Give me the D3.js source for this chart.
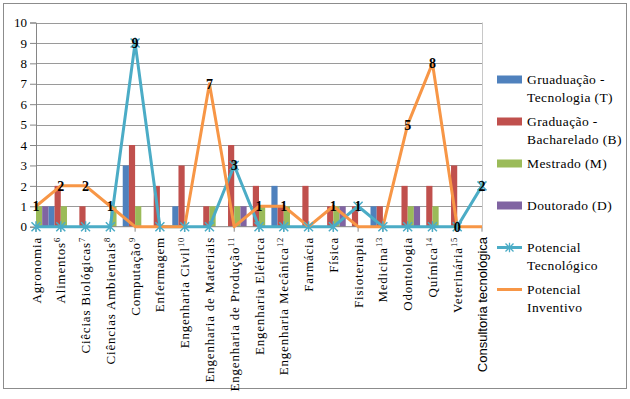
<!DOCTYPE html>
<html>
<head>
<meta charset="utf-8">
<script src="https://cdn.jsdelivr.net/npm/d3@7"></script>
<style>
  body { margin: 0; background: #fff; }
  text { font-family: "Liberation Serif", "Times New Roman", serif; }
</style>
</head>
<body>
<div id="chart"></div>
<script>
var width = 630,
  height = 399,
  plotLeft = 36, plotRight = 482, plotTop = 22.5, plotBottom = 226.7;

// categories and their footnote numbers
var categories = ['Agronomia', 'Alimentos', 'Ciêcias Biológicas', 'Ciências Ambientais', 'Computação',
  'Enfermagem', 'Engenharia Civil', 'Engenharia de Materiais', 'Engenharia de Produção',
  'Engenharia Elétrica', 'Engenharia Mecânica', 'Farmácia', 'Física', 'Fisioterapia', 'Medicina',
  'Odontologia', 'Química', 'Veterinária', 'Consultoria tecnológica'];
var notes = ['', '6', '7', '8', '9', '', '10', '', '11', '', '12', '', '', '', '13', '', '14', '15', ''];

// bar series
var gradTecnologia = [0, 1, 0, 0, 3, 0, 1, 0, 0, 0, 2, 0, 0, 0, 1, 0, 0, 0, 0];
var gradBacharelado = [0, 2, 1, 0, 4, 2, 3, 1, 4, 2, 1, 2, 1, 1, 1, 2, 2, 3, 0];
var mestrado = [1, 1, 0, 1, 1, 0, 0, 1, 1, 1, 1, 0, 1, 0, 0, 1, 1, 0, 0];
var doutorado = [1, 0, 0, 0, 0, 0, 0, 0, 1, 0, 0, 0, 1, 0, 0, 1, 0, 0, 0];

// line series
var potencialTecnologico = [0, 0, 0, 0, 9, 0, 0, 0, 3, 0, 0, 0, 0, 1, 0, 0, 0, 0, 2];
var potencialInventivo = [1, 2, 2, 1, 0, 0, 0, 7, 0, 1, 1, 0, 1, 0, 0, 5, 8, 0, 0];
// which points carry a data label
var tecLabeled = [0, 0, 0, 0, 1, 0, 0, 0, 1, 0, 0, 0, 0, 1, 0, 0, 0, 0, 1];
var invLabeled = [1, 1, 1, 1, 0, 0, 0, 1, 0, 1, 1, 0, 1, 0, 0, 1, 1, 1, 0];

var yTicks = [0, 1, 2, 3, 4, 5, 6, 7, 8, 9, 10];

var barSeries = [
  { name: ['Gruaduação -', 'Tecnologia (T)'], values: gradTecnologia, color: '#4F81BD' },
  { name: ['Graduação -', 'Bacharelado (B)'], values: gradBacharelado, color: '#C0504D' },
  { name: ['Mestrado (M)'], values: mestrado, color: '#9BBB59' },
  { name: ['Doutorado (D)'], values: doutorado, color: '#8064A2' }
];
var lineSeries = [
  { name: ['Potencial', 'Tecnológico'], values: potencialTecnologico, labeled: tecLabeled, color: '#4BACC6', star: true },
  { name: ['Potencial', 'Inventivo'], values: potencialInventivo, labeled: invLabeled, color: '#F79646', star: false }
];

var svg = d3.select('#chart').append('svg')
  .attr('width', width)
  .attr('height', height);

// chart border
svg.append('rect')
  .attr('x', 3.5).attr('y', 3.5)
  .attr('width', 623).attr('height', 385)
  .attr('fill', 'none')
  .attr('stroke', '#8c8c8c');

var xScale = d3.scalePoint()
  .domain(d3.range(categories.length))
  .range([plotLeft, plotRight]);
var step = xScale.step();

var xGroup = d3.scaleBand()
  .domain(d3.range(barSeries.length))
  .range([-step / 2, step / 2])
  .padding(0);

var yScale = d3.scaleLinear()
  .domain([0, 10])
  .range([plotBottom, plotTop]);

// gridlines
svg.append('g')
  .selectAll('line')
  .data(yTicks.filter(function (d) { return d > 0; }))
  .enter().append('line')
  .attr('x1', plotLeft).attr('x2', plotRight)
  .attr('y1', function (d) { return Math.round(yScale(d)) + 0.5; })
  .attr('y2', function (d) { return Math.round(yScale(d)) + 0.5; })
  .attr('stroke', '#9a9a9a');

// plot right edge
svg.append('line')
  .attr('x1', plotRight + 0.5).attr('x2', plotRight + 0.5)
  .attr('y1', yScale(10)).attr('y2', plotBottom)
  .attr('stroke', '#c8c8c8');

// y axis
var yAxis = d3.axisLeft(yScale)
  .tickValues(yTicks)
  .tickSize(6)
  .tickPadding(3);
var gy = svg.append('g')
  .attr('transform', 'translate(' + plotLeft + ',0)')
  .call(yAxis);
gy.selectAll('path, line').attr('stroke', '#868686');
gy.selectAll('text')
  .style('font-family', '"Liberation Serif", serif')
  .style('font-size', '13px')
  .attr('fill', '#000');

// clip for bars
svg.append('clipPath').attr('id', 'plotClip')
  .append('rect')
  .attr('x', plotLeft).attr('y', 0)
  .attr('width', plotRight - plotLeft).attr('height', plotBottom + 1);

var barsG = svg.append('g').attr('clip-path', 'url(#plotClip)');
barSeries.forEach(function (s, si) {
  barsG.selectAll('.bar' + si)
    .data(s.values)
    .enter().append('rect')
    .attr('class', 'bar' + si)
    .attr('x', function (d, i) { return xScale(i) + xGroup(si); })
    .attr('width', xGroup.bandwidth())
    .attr('y', function (d) { return yScale(d); })
    .attr('height', function (d) { return plotBottom - yScale(d); })
    .attr('fill', s.color);
});

// x axis line + ticks
svg.append('line')
  .attr('x1', plotLeft).attr('x2', plotRight)
  .attr('y1', plotBottom).attr('y2', plotBottom)
  .attr('stroke', '#868686');
svg.append('g').selectAll('line')
  .data(categories)
  .enter().append('line')
  .attr('x1', function (d, i) { return xScale(i); })
  .attr('x2', function (d, i) { return xScale(i); })
  .attr('y1', plotBottom).attr('y2', plotBottom + 5)
  .attr('stroke', '#868686');

// x labels
var lastIdx = categories.length - 1;
var xl = svg.append('g').selectAll('text')
  .data(categories)
  .enter().append('text')
  .attr('transform', function (d, i) {
    return 'translate(' + (xScale(i) + 4.5) + ',237) rotate(-90)';
  })
  .attr('text-anchor', 'end')
  .style('font-size', '13px')
  .style('letter-spacing', function (d, i) { return i === lastIdx ? '0px' : '0.8px'; })
  .style('font-family', function (d, i) {
    return i === lastIdx ? '"Liberation Sans", Arial, sans-serif' : '"Liberation Serif", serif';
  });
xl.append('tspan').text(function (d) { return d; });
xl.append('tspan')
  .attr('dy', -5)
  .style('font-size', '8.5px')
  .text(function (d, i) { return notes[i]; });

// lines
var line = d3.line()
  .x(function (d, i) { return xScale(i); })
  .y(function (d) { return yScale(d); });

lineSeries.forEach(function (s) {
  svg.append('path')
    .datum(s.values)
    .attr('d', line)
    .attr('fill', 'none')
    .attr('stroke', s.color)
    .attr('stroke-width', 3)
    .attr('stroke-linejoin', 'round');
});

var starPath = function (r) {
  return 'M' + (-r) + ',' + (-r) + 'L' + r + ',' + r +
    'M' + (-r) + ',' + r + 'L' + r + ',' + (-r) +
    'M0,' + (-r * 1.2) + 'L0,' + (r * 1.2);
};

svg.append('g').selectAll('path')
  .data(potencialTecnologico)
  .enter().append('path')
  .attr('transform', function (d, i) { return 'translate(' + xScale(i) + ',' + yScale(d) + ')'; })
  .attr('d', starPath(4.5))
  .attr('stroke', '#4BACC6')
  .attr('stroke-width', 1.5)
  .attr('fill', 'none');

// data labels
lineSeries.forEach(function (s) {
  var pts = s.values.map(function (v, i) { return { v: v, i: i }; })
    .filter(function (p) { return s.labeled[p.i]; });
  svg.append('g').selectAll('text')
    .data(pts)
    .enter().append('text')
    .attr('x', function (p) { return xScale(p.i); })
    .attr('y', function (p) { return yScale(p.v); })
    .attr('dy', '0.35em')
    .attr('text-anchor', 'middle')
    .style('font-size', '14px')
    .style('font-weight', 'bold')
    .attr('fill', '#000')
    .text(function (p) { return p.v; });
});

// legend
var legendItems = barSeries.map(function (s) { return { name: s.name, color: s.color, type: 'bar' }; })
  .concat(lineSeries.map(function (s) { return { name: s.name, color: s.color, type: s.star ? 'star' : 'line' }; }));

var legend = svg.append('g');
legendItems.forEach(function (item, k) {
  var cy = 79.5 + k * 42;
  var g = legend.append('g').attr('transform', 'translate(497,' + cy + ')');
  if (item.type === 'bar') {
    g.append('rect')
      .attr('x', 0).attr('y', -4)
      .attr('width', 25).attr('height', 8)
      .attr('fill', item.color);
  } else {
    g.append('line')
      .attr('x1', 0).attr('x2', 25)
      .attr('y1', 0).attr('y2', 0)
      .attr('stroke', item.color)
      .attr('stroke-width', 3);
    if (item.type === 'star') {
      g.append('path')
        .attr('transform', 'translate(12.5,0)')
        .attr('d', starPath(4))
        .attr('stroke', item.color)
        .attr('stroke-width', 1.3)
        .attr('fill', 'none');
    }
  }
  var t = g.append('text')
    .attr('x', 30)
    .attr('y', 4.5)
    .style('font-size', '13.5px')
    .style('letter-spacing', '0.4px')
    .attr('fill', '#000');
  item.name.forEach(function (ln, j) {
    t.append('tspan')
      .attr('x', 30)
      .attr('dy', j === 0 ? 0 : 17.5)
      .text(ln);
  });
});
</script>
</body>
</html>
